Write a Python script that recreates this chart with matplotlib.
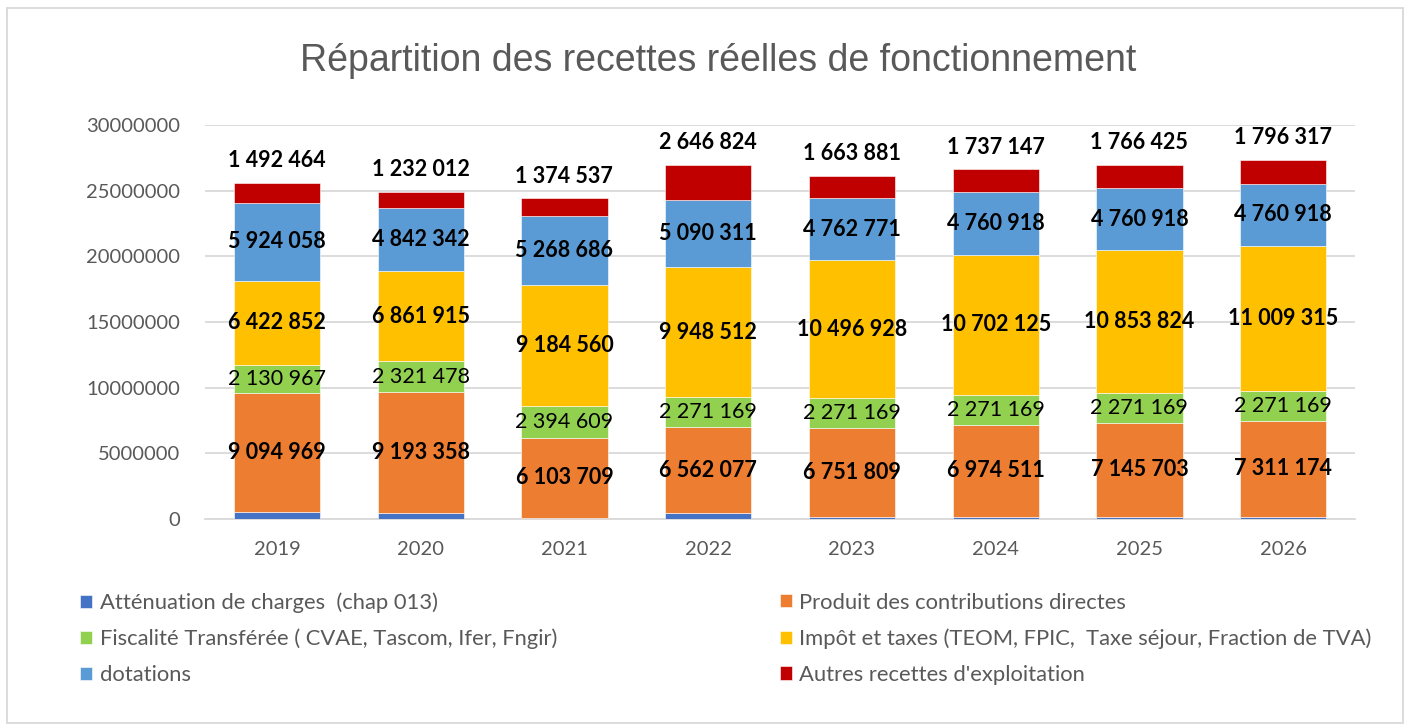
import matplotlib
matplotlib.use("Agg")
import matplotlib.pyplot as plt
from matplotlib.patches import Rectangle
import numpy as np

# years on the x axis
YEARS = ["2019", "2020", "2021", "2022", "2023", "2024", "2025", "2026"]

# one list per series, bottom to top of the stack
attenuation = [510000, 480000, 100000, 430000, 180000, 180000, 180000, 180000]
contributions = [9094969, 9193358, 6103709, 6562077, 6751809, 6974511, 7145703, 7311174]
fiscalite = [2130967, 2321478, 2394609, 2271169, 2271169, 2271169, 2271169, 2271169]
impots = [6422852, 6861915, 9184560, 9948512, 10496928, 10702125, 10853824, 11009315]
dotations = [5924058, 4842342, 5268686, 5090311, 4762771, 4760918, 4760918, 4760918]
autres = [1492464, 1232012, 1374537, 2646824, 1663881, 1737147, 1766425, 1796317]

SERIES_NAMES = [
    "Atténuation de charges  (chap 013)",
    "Produit des contributions directes",
    "Fiscalité Transférée ( CVAE, Tascom, Ifer, Fngir)",
    "Impôt et taxes (TEOM, FPIC,  Taxe séjour, Fraction de TVA)",
    "dotations",
    "Autres recettes d'exploitation",
]
COLORS = ["#4472C4", "#ED7D31", "#92D050", "#FFC000", "#5B9BD5", "#C00000"]
GRAY = "#595959"
FONT = ["Lato", "DejaVu Sans"]
LABEL_SIZE = 15.5


def fmt(v):
    return f"{v:,}".replace(",", " ")


fig = plt.figure(figsize=(14.1, 7.27), dpi=100)
axis = fig.add_axes([0.1454, 0.2861, 0.8156, 0.5419])

series = [attenuation, contributions, fiscalite, impots, dotations, autres]
x = np.arange(len(YEARS))
bottom = np.zeros(len(YEARS))
handles = []
for i, values in enumerate(series):
    vals = np.array(values, dtype=float)
    bars = axis.bar(x, vals, 0.6, bottom=bottom, color=COLORS[i],
                    edgecolor="white", linewidth=0.4, zorder=3)
    handles.append(bars)
    if i > 0:
        for k in range(len(YEARS)):
            if i == 5:
                # last series: label sits above the stack
                axis.annotate(fmt(values[k]), (x[k], bottom[k] + vals[k]),
                              xytext=(0, 16), textcoords="offset points",
                              ha="center", va="center", fontsize=LABEL_SIZE,
                              fontweight="bold", family=FONT, color="black")
            else:
                axis.text(x[k], bottom[k] + vals[k] / 2, fmt(values[k]),
                          ha="center", va="center", fontsize=LABEL_SIZE,
                          fontweight="normal" if i == 2 else "bold",
                          family=FONT, color="black", zorder=4)
    bottom += vals

axis.set_xlim(-0.5, len(YEARS) - 0.5)
axis.set_ylim(0, 30000000)
axis.set_yticks(np.arange(0, 30000001, 5000000))
axis.set_yticklabels([str(v) for v in range(0, 30000001, 5000000)])
axis.set_xticks(x)
axis.set_xticklabels(YEARS)
axis.tick_params(axis="both", length=0, labelsize=14.5, labelcolor=GRAY)
axis.tick_params(axis="x", pad=16)
axis.tick_params(axis="y", pad=18)
for lab in axis.get_xticklabels() + axis.get_yticklabels():
    lab.set_family(FONT)
axis.grid(axis="y", color="#d9d9d9", linewidth=1.3, zorder=0)
for s in ["top", "right", "left"]:
    axis.spines[s].set_visible(False)
axis.spines["bottom"].set_color("#d9d9d9")
axis.spines["bottom"].set_linewidth(1.3)

fig.text(0.509, 0.916, "Répartition des recettes réelles de fonctionnement",
         ha="center", va="center", fontsize=27, color=GRAY,
         family="Liberation Sans")

# legend in two columns, filled row by row
leg_kw = dict(frameon=False, labelcolor=GRAY, handlelength=0.55,
              handleheight=0.55, handletextpad=0.35, labelspacing=0.72,
              prop={"family": FONT, "size": 15.8}, borderaxespad=0,
              borderpad=0)
left = fig.legend([handles[0], handles[2], handles[4]],
                  [SERIES_NAMES[0], SERIES_NAMES[2], SERIES_NAMES[4]],
                  loc="upper left", bbox_to_anchor=(0.057, 0.185), **leg_kw)
right = fig.legend([handles[1], handles[3], handles[5]],
                   [SERIES_NAMES[1], SERIES_NAMES[3], SERIES_NAMES[5]],
                   loc="upper left", bbox_to_anchor=(0.553, 0.185), **leg_kw)

fig.patches.append(Rectangle((0.005, 0.006), 0.99, 0.983, transform=fig.transFigure,
                             fill=False, edgecolor="#d9d9d9", linewidth=1.3))

fig.savefig("out.png", dpi=100)
